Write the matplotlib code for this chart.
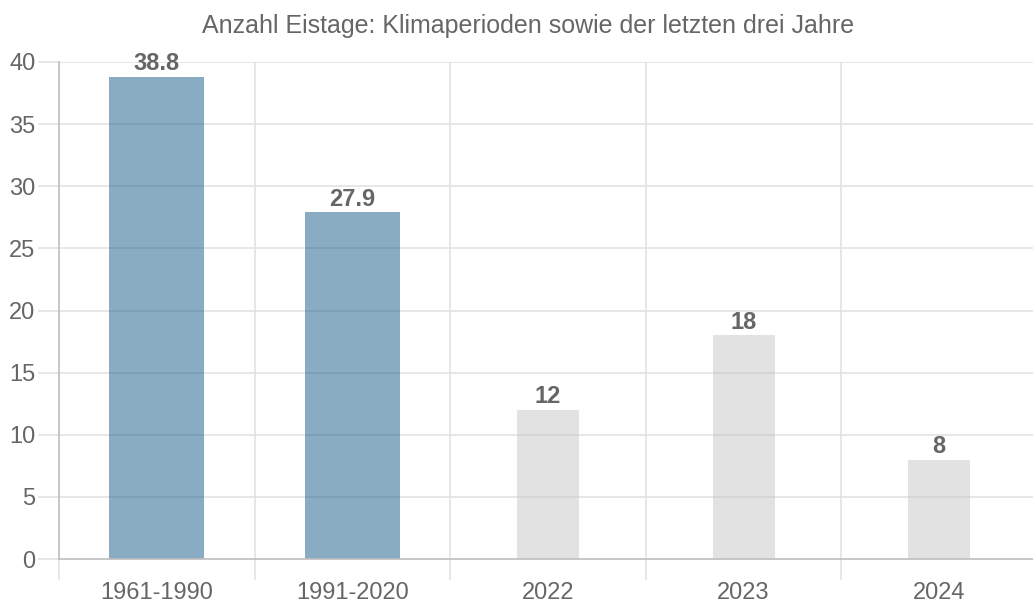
import matplotlib
matplotlib.use("Agg")
import matplotlib.pyplot as plt
import numpy as np

categories = ["1961-1990", "1991-2020", "2022", "2023", "2024"]
values = [38.8, 27.9, 12, 18, 8]
value_labels = ["38.8", "27.9", "12", "18", "8"]
is_period = [True, True, False, False, False]
yticks = [0, 5, 10, 15, 20, 25, 30, 35, 40]
title = "Anzahl Eistage: Klimaperioden sowie der letzten drei Jahre"

blue = (21/255, 91/255, 137/255, 0.5)
grey = (199/255, 199/255, 199/255, 0.5)

W, H = 1033, 606
fig = plt.figure(figsize=(W/100, H/100), dpi=100)
ax = fig.add_axes([59/W, 47/H, (1037-59)/W, (559-62)/H])

plt.rcParams['font.family'] = ['Liberation Sans', 'DejaVu Sans']
fam = ['Liberation Sans', 'DejaVu Sans']
txt = "#666666"
grid = "#e3e3e3"

x = np.arange(len(categories))
ax.set_xlim(-0.5, len(categories)-0.5)
ax.set_ylim(0, 40)

for yv in yticks[1:]:
    ax.axhline(yv, color=grid, lw=1.2, zorder=0)
for b in np.arange(0.5, len(categories)-0.5, 1):
    ax.axvline(b, color=grid, lw=1.2, zorder=0)

colors = [blue if p else grey for p in is_period]
widths = [0.485 if p else 0.316 for p in is_period]
ax.bar(x, values, width=widths, color=colors, zorder=2)

for xi, v, lab in zip(x, values, value_labels):
    ax.annotate(lab, (xi, v), xytext=(0, 1.2), textcoords="offset points",
                ha="center", va="bottom", fontsize=17, fontweight="bold",
                color=txt, family=fam)

for s in ["top", "right"]:
    ax.spines[s].set_visible(False)
for s in ["left", "bottom"]:
    ax.spines[s].set_color("#bdbdbd")
    ax.spines[s].set_linewidth(1.2)

ax.set_yticks(yticks)
ax.set_yticklabels([str(t) for t in yticks], fontsize=17, color=txt, family=fam)
ax.tick_params(axis="y", length=15, width=1.2, color=grid, pad=2)

ax.set_xticks(x)
ax.set_xticklabels(categories, fontsize=17, color=txt, family=fam)
ax.tick_params(axis="x", which="major", length=0, pad=16.5)
ax.set_xticks(np.arange(-0.5, len(categories)-0.5, 1), minor=True)
ax.tick_params(axis="x", which="minor", length=15, width=1.2, color=grid)

fig.text(528/W, 1-26.5/H, title, ha="center", va="center", fontsize=18,
         color=txt, family=fam)

fig.savefig("out.png", dpi=100)
